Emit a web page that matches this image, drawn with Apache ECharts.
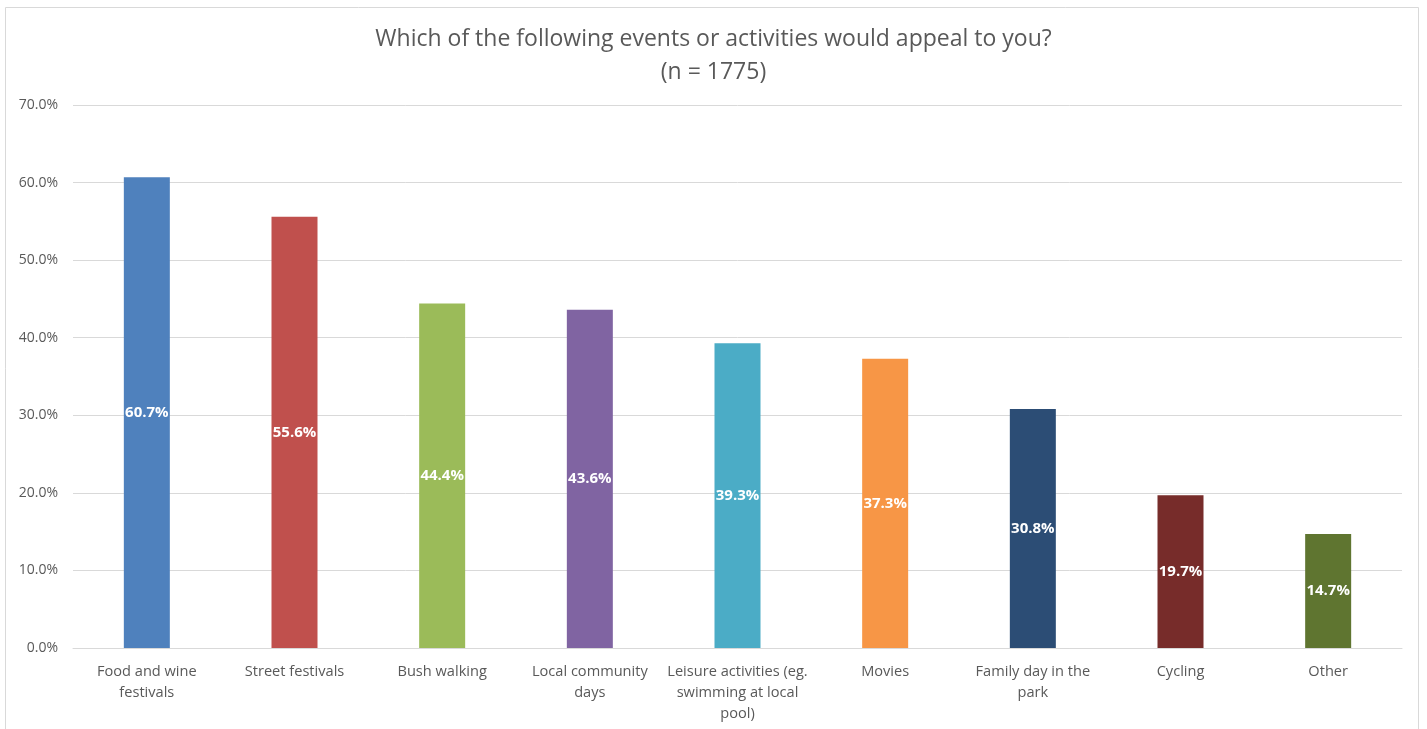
<!DOCTYPE html>
<html>
<head>
<meta charset="utf-8">
<script src="https://cdn.jsdelivr.net/npm/echarts@6/dist/echarts.min.js"></script>
<style>
  html, body { margin: 0; padding: 0; background: #ffffff; }
  #chart { width: 1427px; height: 729px; }
</style>
</head>
<body>
<div id="chart"></div>
<script>
// Survey answers: share of respondents for each event or activity
const categories = [
  'Food and wine\nfestivals',
  'Street festivals',
  'Bush walking',
  'Local community\ndays',
  'Leisure activities (eg.\nswimming at local\npool)',
  'Movies',
  'Family day in the\npark',
  'Cycling',
  'Other'
];
const values = [60.7, 55.6, 44.4, 43.6, 39.3, 37.3, 30.8, 19.7, 14.7];
const barColors = ['#4F81BD', '#C0504D', '#9BBB59', '#8064A2', '#4BACC6', '#F79646', '#2C4D75', '#772C2A', '#5F7530'];
const yTicks = [0, 10, 20, 30, 40, 50, 60, 70];

const titleText = 'Which of the following events or activities would appeal to you?';
const subtitleText = '(n = 1775)';

const fontFamily = '"Open Sans", "Noto Sans", "DejaVu Sans", sans-serif';
const chart = echarts.init(document.getElementById('chart'));

chart.setOption({
  animation: false,
  textStyle: { fontFamily: fontFamily },
  graphic: [{
    type: 'rect',
    shape: { x: 5.5, y: 7.5, width: 1413, height: 800 },
    style: { fill: 'none', stroke: '#D9D9D9', lineWidth: 1 },
    silent: true
  }],
  title: {
    text: titleText,
    subtext: subtitleText,
    left: 'center',
    top: 23,
    itemGap: 10,
    textStyle: { fontSize: 23, fontWeight: 'normal', color: '#595959', fontFamily: fontFamily },
    subtextStyle: { fontSize: 23, color: '#595959', fontFamily: fontFamily }
  },
  grid: { left: 73, right: 25, top: 105, bottom: 81, containLabel: false },
  xAxis: {
    type: 'category',
    data: categories,
    axisLine: { lineStyle: { color: '#D9D9D9' } },
    axisTick: { show: false },
    axisLabel: {
      color: '#595959',
      fontSize: 14.6,
      lineHeight: 21,
      margin: 13,
      interval: 0,
      fontFamily: fontFamily
    }
  },
  yAxis: {
    type: 'value',
    min: 0,
    max: yTicks[yTicks.length - 1],
    interval: 10,
    axisLine: { show: false },
    axisTick: { show: false },
    splitLine: { lineStyle: { color: '#D9D9D9' } },
    axisLabel: {
      color: '#595959',
      fontSize: 14,
      margin: 15,
      fontFamily: fontFamily,
      formatter: v => v.toFixed(1) + '%'
    }
  },
  series: [{
    type: 'bar',
    barWidth: 46,
    data: values.map((v, i) => ({ value: v, itemStyle: { color: barColors[i] } })),
    label: {
      show: true,
      position: 'inside',
      color: '#ffffff',
      fontWeight: 'bold',
      fontSize: 15,
      fontFamily: fontFamily,
      formatter: p => p.value.toFixed(1) + '%'
    }
  }]
});
</script>
</body>
</html>
